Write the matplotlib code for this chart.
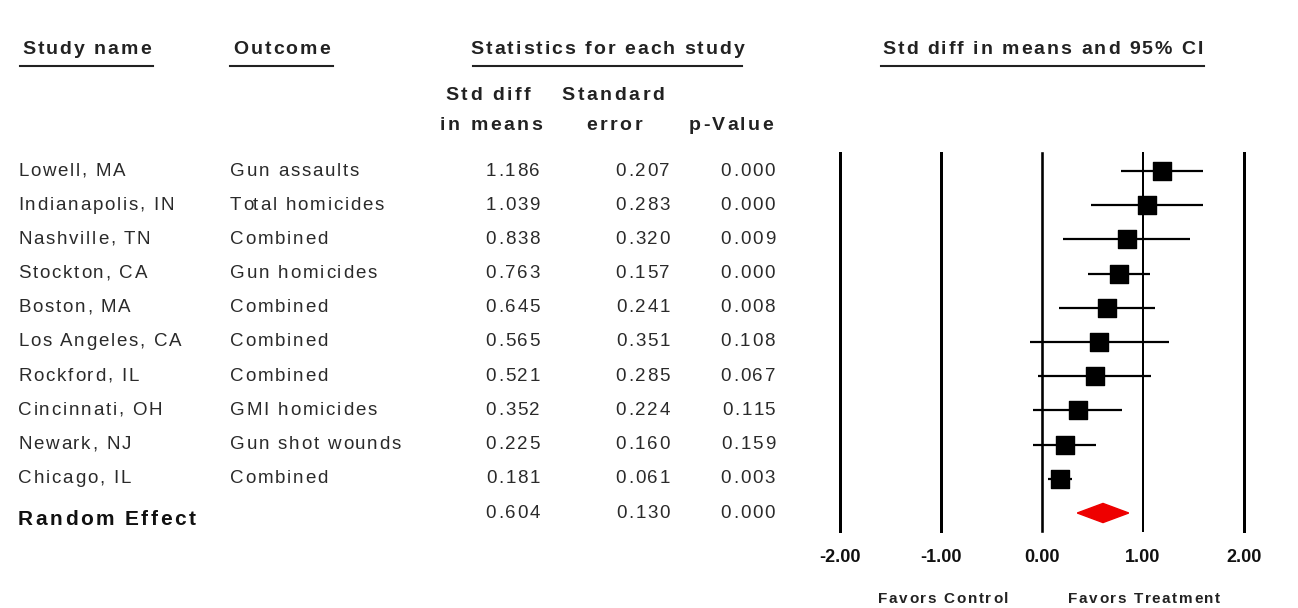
import numpy as np
import matplotlib.pyplot as plt
from matplotlib import transforms
from matplotlib.lines import Line2D
from matplotlib.font_manager import FontProperties

FONT = 'Liberation Sans'
plt.rcParams['font.family'] = [FONT, 'DejaVu Sans']

# study table
studies = ['Lowell, MA', 'Indianapolis, IN', 'Nashville, TN', 'Stockton, CA', 'Boston, MA',
           'Los Angeles, CA', 'Rockford, IL', 'Cincinnati, OH', 'Newark, NJ', 'Chicago, IL']
outcomes = ['Gun assaults', 'Total homicides', 'Combined', 'Gun homicides', 'Combined',
            'Combined', 'Combined', 'GMI homicides', 'Gun shot wounds', 'Combined']
smd = [1.186, 1.039, 0.838, 0.763, 0.645, 0.565, 0.521, 0.352, 0.225, 0.181]
se = [0.207, 0.283, 0.320, 0.157, 0.241, 0.351, 0.285, 0.224, 0.160, 0.061]
pval = [0.000, 0.000, 0.009, 0.000, 0.008, 0.108, 0.067, 0.115, 0.159, 0.003]

# pooled
re_label = 'Random Effect'
re_smd = 0.604
re_se = 0.130
re_p = 0.000

x_ticks = [-2, -1, 0, 1, 2]
x_ticklabels = ['-2.00', '-1.00', '0.00', '1.00', '2.00']

W, H = 1298, 608
fig = plt.figure(figsize=(W / 100, H / 100), dpi=100)
renderer = fig.canvas.get_renderer()

def fx(px):
    return px / W

def fy(py):
    return 1 - py / H

def str_width(s, prop):
    # advance width in pixels, spaces included ('|' avoids kerning pairs)
    w1 = renderer.get_text_width_height_descent('|' + s + '|', prop, ismath=False)[0]
    w0 = renderer.get_text_width_height_descent('||', prop, ismath=False)[0]
    return w1 - w0

def spaced_text(x_px, y, s, track, ha='left', transform=None, size=13.5,
                weight='normal', color='#222', va='center'):
    # the reference has loose letter spacing, so place glyphs one by one
    prop = FontProperties(family=FONT, size=size, weight=weight)
    total = str_width(s, prop) + track * (len(s) - 1)
    start = x_px - {'left': 0, 'center': total / 2, 'right': total}[ha]
    if transform is None:
        transform = fig.transFigure
    for k, c in enumerate(s):
        if c == ' ':
            continue
        off = str_width(s[:k], prop) + track * k
        fig.text(fx(start + off), y, c, ha='left', va=va, fontproperties=prop,
                 color=color, transform=transform)

# forest axes: x=-2 at 840px, x=2 at 1244px, rows from 171px every 34.2px
row_h = 34.2
top_px, bot_px = 153, 531
ax = fig.add_axes([fx(840), fy(bot_px), (1244 - 840) / W, (bot_px - top_px) / H])
ax.set_xlim(-2, 2)
ax.set_ylim((bot_px - 171) / row_h, (top_px - 171) / row_h)
for s in ax.spines.values():
    s.set_visible(False)
ax.set_yticks([])
ax.set_xticks(x_ticks)
ax.set_xticklabels(x_ticklabels, fontweight='bold', fontsize=13, color='#111')
ax.tick_params(axis='x', length=0, pad=13)

# line widths in points (3px, 2.6px, 2px)
lw_v = {-2: 2.16, -1: 2.16, 0: 1.87, 1: 1.44, 2: 2.16}
for t in x_ticks:
    ax.axvline(t, color='black', lw=lw_v[t], zorder=1, clip_on=False)

rows = np.arange(len(studies))
smd_a = np.array(smd)
se_a = np.array(se)
lo = smd_a - 1.96 * se_a
hi = smd_a + 1.96 * se_a
ax.hlines(rows, lo, hi, color='black', lw=1.6, zorder=2)
ax.scatter(smd_a, rows, marker='s', s=165, color='black', zorder=3)

# diamond for pooled effect
re_row = len(studies)
re_lo = re_smd - 1.96 * re_se
re_hi = re_smd + 1.96 * re_se
ax.fill([re_lo, re_smd, re_hi, re_smd], [re_row, re_row - 0.28, re_row, re_row + 0.28],
        color='#ee0000', zorder=3, clip_on=False)

# table text, sharing row positions with the forest axes
tr = transforms.blended_transform_factory(fig.transFigure, ax.transData)
body = dict(track=1.8, transform=tr, size=13.5, color='#2a2a2a')
for i in rows:
    spaced_text(18, i, studies[i], ha='left', **body)
    spaced_text(230, i, outcomes[i], ha='left', **body)
    spaced_text(540, i, f'{smd[i]:.3f}', ha='right', **body)
    spaced_text(670, i, f'{se[i]:.3f}', ha='right', **body)
    spaced_text(775, i, f'{pval[i]:.3f}', ha='right', **body)

spaced_text(540, re_row, f'{re_smd:.3f}', ha='right', **body)
spaced_text(670, re_row, f'{re_se:.3f}', ha='right', **body)
spaced_text(775, re_row, f'{re_p:.3f}', ha='right', **body)
spaced_text(18, re_row + 0.2, re_label, 2.5, ha='left', transform=tr, size=15,
            weight='bold', color='#111')

# headers with underlines
headers = [('Study name', 20, 153), ('Outcome', 230, 333),
           ('Statistics for each study', 473, 742), ('Std diff in means and 95% CI', 881, 1204)]
for label, x0, x1 in headers:
    spaced_text((x0 + x1) / 2, fy(50), label, 2.0, ha='center', size=14, weight='bold')
    fig.add_artist(Line2D([fx(x0), fx(x1)], [fy(66), fy(66)], color='#222', lw=1.5))

sub = dict(track=2.5, ha='center', size=14, weight='bold')
spaced_text(488, fy(96), 'Std diff', **sub)
spaced_text(491, fy(126), 'in means', **sub)
spaced_text(613, fy(96), 'Standard', **sub)
spaced_text(614, fy(126), 'error', **sub)
spaced_text(731, fy(126), 'p-Value', **sub)

spaced_text(943, fy(599), 'Favors Control', 1.7, ha='center', size=11, weight='bold')
spaced_text(1144, fy(599), 'Favors Treatment', 1.7, ha='center', size=11, weight='bold')

fig.savefig('out.png', dpi=100)
